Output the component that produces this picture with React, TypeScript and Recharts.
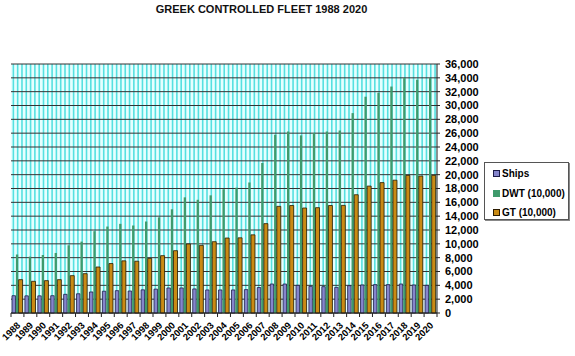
import React from 'react';
import { BarChart, Bar, XAxis, YAxis, CartesianGrid, Legend } from 'recharts';

const years = [
  '1988', '1989', '1990', '1991', '1992', '1993', '1994', '1995', '1996', '1997', '1998',
  '1999', '2000', '2001', '2002', '2003', '2004', '2005', '2006', '2007', '2008', '2009',
  '2010', '2011', '2012', '2013', '2014', '2015', '2016', '2017', '2018', '2019', '2020',
];

const ships = [
  2500, 2480, 2480, 2500, 2700, 2780, 3040, 3150, 3230, 3180, 3350,
  3450, 3620, 3620, 3480, 3330, 3330, 3330, 3380, 3680, 4190, 4190,
  4000, 3860, 3810, 3710, 3950, 4050, 4100, 4100, 4190, 4050, 4000,
];

const dwt = [
  8440, 8150, 8390, 8680, 9790, 10320, 11830, 12500, 12890, 12650, 13230,
  13830, 14990, 16720, 16370, 17010, 17900, 18120, 18870, 21690, 25780, 26240,
  25680, 26020, 26240, 26380, 28900, 31270, 31850, 32740, 33970, 33730, 33970,
];

const gt = [
  4820, 4580, 4680, 4820, 5400, 5690, 6650, 7150, 7540, 7490, 7900,
  8290, 9010, 9980, 9780, 10310, 10840, 10870, 11300, 12920, 15420, 15540,
  15180, 15230, 15540, 15560, 17100, 18350, 18850, 19200, 19900, 19800, 19900,
];

const yTicks = [
  0, 2000, 4000, 6000, 8000, 10000, 12000, 14000, 16000, 18000,
  20000, 22000, 24000, 26000, 28000, 30000, 32000, 34000, 36000,
];

const series = [
  { key: 'ships', name: 'Ships', fill: '#8585cc', stroke: '#1c1c48', size: 3.5 },
  { key: 'dwt', name: 'DWT (10,000)', fill: '#3f9a6c', stroke: 'none', size: 2.3 },
  { key: 'gt', name: 'GT (10,000)', fill: '#c98a14', stroke: '#2a1a00', size: 4 },
];

const data = years.map((year, i) => ({ year, ships: ships[i], dwt: dwt[i], gt: gt[i] }));

const FONT = '"Liberation Sans", Arial, sans-serif';

const YearTick = (props: any) => {
  const { x, y, payload, index } = props;
  const half = payload && payload.offset ? payload.offset : 6.45;
  return (
    <g>
      <line x1={x - half} y1={y} x2={x - half} y2={y + 4} stroke="#222" />
      {index === years.length - 1 && (
        <line x1={x + half} y1={y} x2={x + half} y2={y + 4} stroke="#222" />
      )}
      <g transform={`translate(${x + 3.5},${y + 13}) rotate(-45)`}>
        <text x={0} y={0} textAnchor="end" fontSize={9.5} fontWeight="bold" fontFamily={FONT} fill="#000">
          {payload.value}
        </text>
      </g>
    </g>
  );
};

const LegendBox = () => (
  <div
    style={{
      width: 85,
      height: 58,
      background: '#fff',
      border: '1px solid #555',
      boxShadow: '1px 1px 0 #888',
      fontFamily: FONT,
      fontSize: 10,
      fontWeight: 'bold',
      padding: '1px 0 0 8px',
      boxSizing: 'border-box',
    }}
  >
    {series.map((s) => (
      <div key={s.key} style={{ display: 'flex', alignItems: 'center', height: 19.5 }}>
        <span
          style={{
            display: 'inline-block',
            width: 5,
            height: 5,
            background: s.fill,
            border: s.stroke === 'none' ? '1px solid ' + s.fill : '1px solid ' + s.stroke,
            marginRight: 2,
          }}
        />
        <span>{s.name}</span>
      </div>
    ))}
  </div>
);

const cyanLines = ({ offset }: any) => {
  const out: number[] = [];
  const step = offset.width / (years.length * 3);
  for (let k = 0; k < years.length * 3; k++) out.push(offset.left + (k + 0.55) * step);
  return out;
};

export default function App() {
  return (
    <div style={{ position: 'absolute', left: 0, top: 0, width: 575, height: 356, background: '#fff' }}>
      <div
        style={{
          position: 'absolute',
          left: 0,
          top: 3,
          width: 523,
          textAlign: 'center',
          fontFamily: FONT,
          fontWeight: 'bold',
          fontSize: 11,
          color: '#111',
        }}
      >
        GREEK CONTROLLED FLEET 1988 2020
      </div>
      <BarChart
        width={575}
        height={356}
        data={data}
        margin={{ top: 64, right: 0, left: 11, bottom: 0 }}
        barCategoryGap="10%"
        barGap={0.4}
      >
        <CartesianGrid
          horizontal={false}
          vertical
          fill="#e6ffff"
          stroke="#55e0e0"
          strokeWidth={1.6}
          verticalCoordinatesGenerator={cyanLines}
        />
        <CartesianGrid vertical={false} stroke="#333" strokeWidth={1} yAxisId="r" />
        <XAxis
          dataKey="year"
          interval={0}
          tickLine={false}
          tickSize={0}
          tickMargin={0}
          height={43}
          axisLine={{ stroke: '#222' }}
          tick={<YearTick />}
        />
        <YAxis
          yAxisId="l"
          orientation="left"
          width={0}
          domain={[0, 36000]}
          tick={false}
          tickLine={false}
          axisLine={{ stroke: '#555' }}
        />
        <YAxis
          yAxisId="r"
          orientation="right"
          width={138}
          domain={[0, 36000]}
          ticks={yTicks}
          interval={0}
          tickSize={3}
          tickMargin={5}
          axisLine={{ stroke: '#222' }}
          tickLine={{ stroke: '#222' }}
          tickFormatter={(v: number) => v.toLocaleString('en-US')}
          tick={{ fontSize: 11, fontWeight: 'bold', fill: '#000', fontFamily: FONT }}
        />
        {series.map((s) => (
          <Bar
            key={s.key}
            yAxisId="r"
            dataKey={s.key}
            name={s.name}
            fill={s.fill}
            stroke={s.stroke}
            strokeWidth={s.stroke === 'none' ? 0 : 0.8}
            barSize={s.size}
            isAnimationActive={false}
          />
        ))}
        <Legend
          layout="vertical"
          align="center"
          verticalAlign="middle"
          wrapperStyle={{ left: 484, top: 162, width: 88, height: 60 }}
          content={() => <LegendBox />}
        />
      </BarChart>
    </div>
  );
}
